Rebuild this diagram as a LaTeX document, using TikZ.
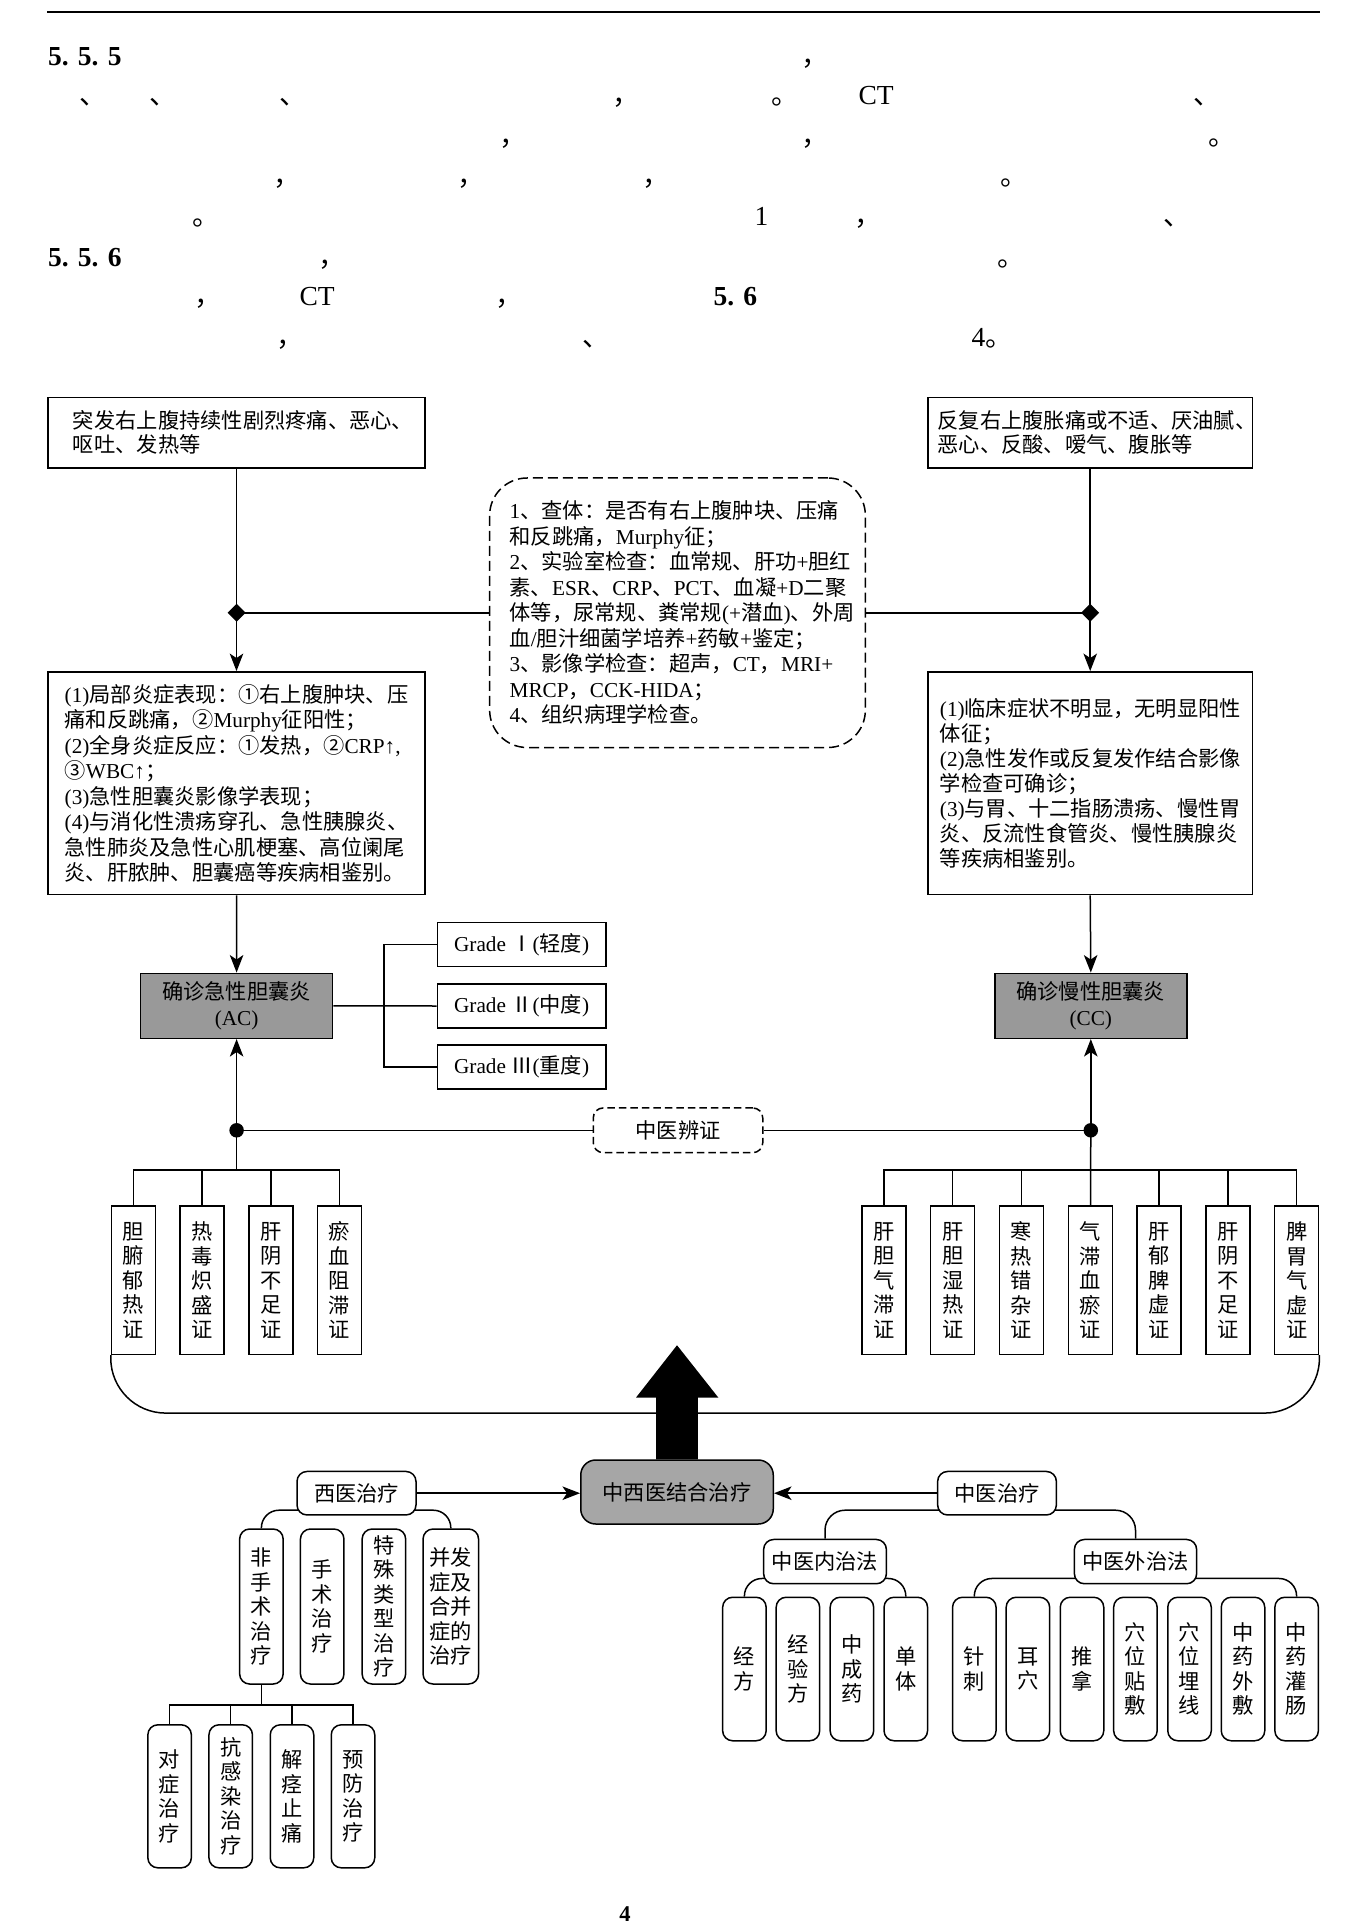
\documentclass[tikz,border=0pt]{standalone}
\usepackage{fontspec}
\setmainfont{Liberation Serif}
\newfontfamily\cjkf{Noto Sans CJK SC}
\usetikzlibrary{arrows.meta,backgrounds,calc}
\XeTeXinterchartokenstate=1
\newXeTeXintercharclass\CJKcls
\newcount\cjkc
\def\setcjkrange#1#2{\cjkc=#1\relax
  \loop\XeTeXcharclass\cjkc=\CJKcls\relax
  \ifnum\cjkc<#2\relax\advance\cjkc by 1\relax\repeat}
\setcjkrange{"4E00}{"9FFF}
\setcjkrange{"3000}{"303F}
\setcjkrange{"FF00}{"FFEF}
\setcjkrange{"2460}{"24FF}
\setcjkrange{"2160}{"217F}
\XeTeXinterchartoks 0 \CJKcls = {\cjkf}
\XeTeXinterchartoks 4095 \CJKcls = {\cjkf}
\XeTeXinterchartoks \CJKcls 0 = {\rmfamily}
\XeTeXinterchartoks 4095 0 = {\rmfamily}
\begin{document}
\begin{tikzpicture}[x=0.4pt,y=-0.4pt,
  every node/.style={inner sep=0pt},
  ln/.style={line width=0.6pt},
  bx/.style={draw, fill=white, line width=0.6pt, font=\fontsize{8.5pt}{10.2pt}\selectfont},
  txtbox/.style={bx, align=left},
  gbox/.style={bx, fill=black!40, align=center, minimum width=76.8pt, minimum height=26pt},
  grbox/.style={bx, minimum width=67.5pt, minimum height=17.6pt},
  vbox/.style={bx, align=center, font=\fontsize{8.5pt}{9.8pt}\selectfont, minimum width=17.6pt, minimum height=59.3pt},
  rvbox/.style={bx, rounded corners=4pt, align=center, font=\fontsize{8.5pt}{9.8pt}\selectfont, minimum width=17.4pt},
  rhbox/.style={bx, rounded corners=4pt, minimum height=17.6pt},
  arr/.style={ln, -{Stealth[length=7pt,width=5.4pt,inset=1.8pt]}},
  hdr/.style={anchor=base west, font=\fontsize{11pt}{13pt}\selectfont},
  hdrb/.style={anchor=base west, font=\bfseries\fontsize{11pt}{13pt}\selectfont},
]
\useasboundingbox (0,0) rectangle (1360,1931);
\draw[line width=0.8pt] (47,12) -- (1320,12);

% header glyphs
\node[hdrb] (h1) at (47.7,66) {5. 5. 5};
\node[hdr] (h2) at (801,66) {，};
\node[hdr] (h3) at (79,105) {、};
\node[hdr] (h4) at (149,105) {、};
\node[hdr] (h5) at (279,105) {、};
\node[hdr] (h6) at (612,105) {，};
\node[hdr] (h7) at (771,105) {。};
\node[hdr] (h8) at (858,105) {CT};
\node[hdr] (h9) at (1193,105) {、};
\node[hdr] (h10) at (499,146) {，};
\node[hdr] (h11) at (801,146) {，};
\node[hdr] (h12) at (1208,146) {。};
\node[hdr] (h13) at (273,186) {，};
\node[hdr] (h14) at (457,186) {，};
\node[hdr] (h15) at (642,186) {，};
\node[hdr] (h16) at (1000,186) {。};
\node[hdr] (h17) at (192,226) {。};
\node[hdr] (h18) at (754,226) {1};
\node[hdr] (h19) at (854,226) {，};
\node[hdr] (h20) at (1163,226) {、};
\node[hdrb] (h21) at (47.7,267) {5. 5. 6};
\node[hdr] (h22) at (318,267) {，};
\node[hdr] (h23) at (997,267) {。};
\node[hdr] (h24) at (194,306) {，};
\node[hdr] (h25) at (299,306) {CT};
\node[hdr] (h26) at (495,306) {，};
\node[hdrb] (h27) at (713,306) {5. 6};
\node[hdr] (h28) at (276,347) {，};
\node[hdr] (h29) at (582,347) {、};
\node[hdr] (h30) at (971,347) {4。};

% top boxes
\node[txtbox, minimum width=150.8pt, minimum height=28.2pt, text width=130.8pt, inner xsep=10pt, font=\fontsize{8.5pt}{9.6pt}\selectfont] (A1) at (236.5,432.75) {突发右上腹持续性剧烈疼痛、恶心、\\呕吐、发热等};
\node[txtbox, minimum width=129.8pt, minimum height=28.2pt, text width=122pt, inner xsep=3.9pt, font=\fontsize{8.5pt}{9.6pt}\selectfont] (B1) at (1090.2,432.75) {反复右上腹胀痛或不适、厌油腻、\\恶心、反酸、嗳气、腹胀等};

\node[txtbox, dash pattern=on 4pt off 2pt, rounded corners=15pt, minimum width=150.3pt, minimum height=107.8pt, text width=134.3pt, inner xsep=8pt] (D) at (677.5,612.75) {1、查体：是否有右上腹肿块、压痛\\和反跳痛，Murphy征；\\2、实验室检查：血常规、肝功+胆红\\素、ESR、CRP、PCT、血凝+D二聚\\体等，尿常规、粪常规(+潜血)、外周\\血/胆汁细菌学培养+药敏+鉴定；\\3、影像学检查：超声，CT，MRI+\\MRCP，CCK-HIDA；\\4、组织病理学检查。};

\node[txtbox, minimum width=150.8pt, minimum height=89.1pt, text width=137.4pt, inner xsep=6.7pt] (A2) at (236.5,783.2) {(1)局部炎症表现：①右上腹肿块、压\\痛和反跳痛，②Murphy征阳性；\\(2)全身炎症反应：①发热，②CRP↑,\\③WBC↑；\\(3)急性胆囊炎影像学表现；\\(4)与消化性溃疡穿孔、急性胰腺炎、\\急性肺炎及急性心肌梗塞、高位阑尾\\炎、肝脓肿、胆囊癌等疾病相鉴别。};
\node[txtbox, minimum width=129.8pt, minimum height=89.1pt, text width=120.2pt, inner xsep=4.8pt, font=\fontsize{8.5pt}{10pt}\selectfont] (B2) at (1090.2,783.2) {(1)临床症状不明显，无明显阳性\\体征；\\(2)急性发作或反复发作结合影像\\学检查可确诊；\\(3)与胃、十二指肠溃疡、慢性胃\\炎、反流性食管炎、慢性胰腺炎\\等疾病相鉴别。};

\node[gbox] (AC) at (236.6,1005.8) {确诊急性胆囊炎\\(AC)};
\node[gbox] (CC) at (1090.8,1005.8) {确诊慢性胆囊炎\\(CC)};

\node[grbox] (G1) at (521.7,944.7) {Grade Ⅰ(轻度)};
\node[grbox] (G2) at (521.7,1006) {Grade Ⅱ(中度)};
\node[grbox] (G3) at (521.7,1067) {Grade Ⅲ(重度)};

\node[bx, dash pattern=on 3pt off 1.6pt, rounded corners=4pt, minimum width=67.8pt, minimum height=17.9pt] (Z) at (678,1130.3) {中医辨证};

\coordinate (jA) at (A1.south |- D.west);
\coordinate (jB) at (B1.south |- D.east);
\coordinate (dA) at (AC.south |- Z.west);
\coordinate (dB) at (CC.south |- Z.east);
\coordinate (barA) at (236.6,1170);
\coordinate (barB) at (1090.8,1170);

% syndrome boxes
\node[vbox] (L1) at (133.5,1280.2) {胆\\腑\\郁\\热\\证};
\node[vbox] (L2) at (202,1280.2) {热\\毒\\炽\\盛\\证};
\node[vbox] (L3) at (270.8,1280.2) {肝\\阴\\不\\足\\证};
\node[vbox] (L4) at (339.5,1280.2) {瘀\\血\\阻\\滞\\证};
\node[vbox] (R1) at (884,1280.2) {肝\\胆\\气\\滞\\证};
\node[vbox] (R2) at (952.7,1280.2) {肝\\胆\\湿\\热\\证};
\node[vbox] (R3) at (1021.5,1280.2) {寒\\热\\错\\杂\\证};
\node[vbox] (R4) at (1090.5,1280.2) {气\\滞\\血\\瘀\\证};
\node[vbox] (R5) at (1159,1280.2) {肝\\郁\\脾\\虚\\证};
\node[vbox] (R6) at (1228,1280.2) {肝\\阴\\不\\足\\证};
\node[vbox] (R7) at (1296.7,1280.2) {脾\\胃\\气\\虚\\证};

% treatment
\node[bx, fill=black!35, rounded corners=6pt, minimum width=77pt, minimum height=25.6pt] (M) at (677,1492) {中西医结合治疗};
\node[rhbox, minimum width=47.6pt, minimum height=17.4pt] (W1) at (356.5,1493.2) {西医治疗};
\node[rhbox, minimum width=47.5pt, minimum height=17.4pt] (T1) at (997,1493.2) {中医治疗};

\node[rvbox, minimum height=62pt] (C1) at (261.4,1606.5) {非\\手\\术\\治\\疗};
\node[rvbox, minimum height=62pt] (C2) at (322.2,1606.5) {手\\术\\治\\疗};
\node[rvbox, minimum height=62pt] (C3) at (383.9,1606.5) {特\\殊\\类\\型\\治\\疗};
\node[rvbox, minimum height=62pt, minimum width=22.2pt] (C4) at (450.8,1606.5) {并发\\症及\\合并\\症的\\治疗};

\node[rvbox, minimum height=57.2pt] (K1) at (169.6,1796.3) {对\\症\\治\\疗};
\node[rvbox, minimum height=57.2pt] (K2) at (230.7,1796.3) {抗\\感\\染\\治\\疗};
\node[rvbox, minimum height=57.2pt] (K3) at (292,1796.3) {解\\痉\\止\\痛};
\node[rvbox, minimum height=57.2pt] (K4) at (353,1796.3) {预\\防\\治\\疗};

\node[rhbox, minimum width=49.1pt, minimum height=17.7pt] (N) at (825,1561.6) {中医内治法};
\node[rhbox, minimum width=48.9pt, minimum height=17.7pt] (E) at (1135.5,1561.6) {中医外治法};

\node[rvbox, minimum height=57.4pt] (n1) at (744.4,1669) {经\\方};
\node[rvbox, minimum height=57.4pt] (n2) at (797.9,1669) {经\\验\\方};
\node[rvbox, minimum height=57.4pt] (n3) at (851.9,1669) {中\\成\\药};
\node[rvbox, minimum height=57.4pt] (n4) at (905.8,1669) {单\\体};

\node[rvbox, minimum height=57.4pt] (e1) at (974.3,1669) {针\\刺};
\node[rvbox, minimum height=57.4pt] (e2) at (1027.9,1669) {耳\\穴};
\node[rvbox, minimum height=57.4pt] (e3) at (1082,1669) {推\\拿};
\node[rvbox, minimum height=57.4pt] (e4) at (1135.4,1669) {穴\\位\\贴\\敷};
\node[rvbox, minimum height=57.4pt] (e5) at (1189.5,1669) {穴\\位\\埋\\线};
\node[rvbox, minimum height=57.4pt] (e6) at (1243,1669) {中\\药\\外\\敷};
\node[rvbox, minimum height=57.4pt] (e7) at (1296.6,1669) {中\\药\\灌\\肠};

\node[font=\bfseries\fontsize{9pt}{10pt}\selectfont] (pg) at (625,1913.6) {4};

% connectors
\begin{pgfonlayer}{background}
\draw[ln] (A1.south) -- (jA);
\draw[ln] (D.west) -- (jA);
\draw[arr] (jA) -- (A2.north);
\draw[ln] (B1.south) -- (jB);
\draw[ln] (D.east) -- (jB);
\draw[arr] (jB) -- (B2.north);
\draw[arr] (A2.south) -- (AC.north);
\draw[arr] (B2.south) -- (CC.north);
\draw[ln] (AC.east) -- (G2.west);
\draw[ln] (G1.west) -- ++(-52.5,0) |- (G3.west);
\draw[ln] (Z.west) -- (dA);
\draw[ln] (Z.east) -- (dB);
\draw[arr] (dA) -- (AC.south);
\draw[arr] (dB) -- (CC.south);
\draw[ln] (dA) -- (barA);
\draw[ln] (L1.north) |- (barA) -| (L4.north);
\draw[ln] (L2.north) -- (L2.north |- barA);
\draw[ln] (L3.north) -- (L3.north |- barA);
\draw[ln] (dB) -- (R4.north);
\draw[ln] (R1.north) |- (barB) -| (R7.north);
\draw[ln] (R2.north) -- (R2.north |- barB);
\draw[ln] (R3.north) -- (R3.north |- barB);
\draw[ln] (R5.north) -- (R5.north |- barB);
\draw[ln] (R6.north) -- (R6.north |- barB);
\draw[ln, rounded corners=22pt] (L1.south west) -- ++(0,58) -| (R7.south east);
\coordinate (hW) at ($(W1.south)+(0,-5.5)$);
\draw[ln, rounded corners=7pt] (C1.north) |- (hW) -| (C4.north);
\draw[ln] (C1.south) -- ++(0,20.4) coordinate (hC);
\draw[ln] (K1.north) |- (hC) -| (K4.north);
\draw[ln] (K2.north) -- (K2.north |- hC);
\draw[ln] (K3.north) -- (K3.north |- hC);
\coordinate (hT) at ($(T1.south)+(0,-5.5)$);
\draw[ln, rounded corners=8pt] (N.north) |- (hT) -| (E.north);
\coordinate (hN) at ($(N.south)+(0,-6)$);
\draw[ln, rounded corners=7pt] (n1.north) |- (hN) -| (n4.north);
\coordinate (hE) at ($(E.south)+(0,-6)$);
\draw[ln, rounded corners=7pt] (e1.north) |- (hE) -| (e7.north);
\end{pgfonlayer}

\fill (jA) ++(-9,0) -- ++(9,-9) -- ++(9,9) -- ++(-9,9) -- cycle;
\fill (jB) ++(-9,0) -- ++(9,-9) -- ++(9,9) -- ++(-9,9) -- cycle;
\fill (dA) circle[radius=2.9pt];
\fill (dB) circle[radius=2.9pt];

\draw[arr] (W1.east) -- (W1.east -| M.west);
\draw[arr] (T1.west) -- (T1.west -| M.east);

% big arrow
\fill[shift={(M.north)}] (-20.8,0) -- (-20.8,-61.7) -- (-41,-61.7) -- (0,-114) -- (41.3,-61.7) -- (20.8,-61.7) -- (20.8,0) -- cycle;
\end{tikzpicture}
\end{document}
